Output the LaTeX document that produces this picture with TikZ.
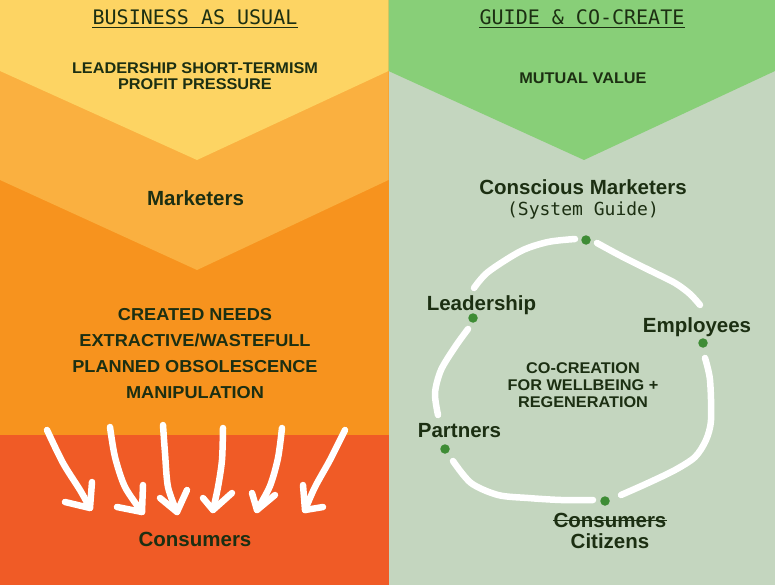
\documentclass[tikz,border=0pt]{standalone}
\usepackage{fontspec}
\setmainfont{Liberation Sans}
\newfontfamily\monof{DejaVu Sans Mono}
\newfontfamily\widef[FakeStretch=1.05]{Liberation Sans}
\usetikzlibrary{calc}
\definecolor{cyellow}{HTML}{FDD463}
\definecolor{clorange}{HTML}{FAB040}
\definecolor{corange}{HTML}{F7931E}
\definecolor{cred}{HTML}{F05B26}
\definecolor{cgreen}{HTML}{88CF78}
\definecolor{csage}{HTML}{C4D6BF}
\definecolor{ctext}{HTML}{1C2F12}
\definecolor{cdot}{HTML}{3E8C35}
\tikzset{
  head/.style={inner sep=0, anchor=base, text=ctext, font=\monof\fontsize{20}{22}\selectfont},
  sub/.style={inner sep=0, anchor=base, text=ctext, font=\monof\fontsize{18}{20}\selectfont},
  caps/.style={inner sep=0, anchor=base, text=ctext, font=\widef\bfseries\fontsize{15.5}{16}\selectfont},
  capl/.style={inner sep=0, anchor=base, text=ctext, font=\widef\bfseries\fontsize{17.3}{18}\selectfont},
  lbl/.style={inner sep=0, anchor=base, text=ctext, font=\bfseries\fontsize{20.5}{22}\selectfont},
  dot/.style={circle, fill=cdot, inner sep=0, minimum size=9.5pt},
  loopline/.style={white, line width=6.5pt, line cap=round, line join=round},
  warrow/.style={white, line width=6.5pt, line cap=round, line join=round},
}
\begin{document}
\begin{tikzpicture}[x=1pt,y=-1pt]
\useasboundingbox (0,0) rectangle (775,585);
% left panel backgrounds
\fill[cred] (0,435) rectangle (388.5,585);
\fill[corange] (0,0) rectangle (388.5,435);
\fill[clorange] (0,0) -- (388.5,0) -- (388.5,180) -- (197,270) -- (0,180) -- cycle;
\fill[cyellow] (0,0) -- (388.5,0) -- (388.5,71) -- (197,160) -- (0,71) -- cycle;
% right panel backgrounds
\fill[csage] (388.5,0) rectangle (775,585);
\fill[cgreen] (388.5,0) -- (775,0) -- (775,71) -- (584,160) -- (388.5,71) -- cycle;

% left texts
\node[head] (hL) at (195,25) {BUSINESS AS USUAL};
\draw[ctext, line width=0.8pt] ($(hL.base west)+(0,2.2)$) -- ($(hL.base east)+(0,2.2)$);
\node[caps] (p1) at (195,74) {LEADERSHIP SHORT-TERMISM};
\node[caps] (p2) at (195,90) {PROFIT PRESSURE};
\node[lbl] (mk) at (195.5,205) {Marketers};
\node[capl] (c1) at (195,320) {CREATED NEEDS};
\node[capl] (c2) at (195,346) {EXTRACTIVE/WASTEFULL};
\node[capl] (c3) at (195,372) {PLANNED OBSOLESCENCE};
\node[capl] (c4) at (195,398) {MANIPULATION};
\node[lbl] (consL) at (195,546) {Consumers};

% arrows
\draw[warrow] plot[smooth] coordinates {(47,430) (63,463) (80,490) (90,508)};
\draw[warrow] (92,482) -- (90,508) -- (65,502);
\draw[warrow] plot[smooth] coordinates {(110,427) (115,457) (125,487) (142,512)};
\draw[warrow] (143,485) -- (142,512) -- (117,507);
\draw[warrow] plot[smooth] coordinates {(163,425) (165,453) (168,487) (177,512)};
\draw[warrow] (187,490) -- (177,512) -- (160,498);
\draw[warrow] plot[smooth] coordinates {(223,428) (222,460) (218,487) (213,510)};
\draw[warrow] (232,493) -- (213,510) -- (203,498);
\draw[warrow] plot[smooth] coordinates {(282,428) (278,458) (270,486) (257,510)};
\draw[warrow] (275,495) -- (257,510) -- (252,493);
\draw[warrow] plot[smooth] coordinates {(345,430) (330,460) (315,487) (305,510)};
\draw[warrow] (323,507) -- (305,510) -- (303,485);

% right texts
\node[head] (hR) at (582,25) {GUIDE \& CO-CREATE};
\draw[ctext, line width=0.8pt] ($(hR.base west)+(0,2.2)$) -- ($(hR.base east)+(0,2.2)$);
\node[caps] (mv) at (583,84) {MUTUAL VALUE};
\node[lbl] (cm) at (583,195) {Conscious Marketers};
\node[sub] (sg) at (583,215) {(System Guide)};

% loop
\draw[loopline] plot[smooth] coordinates {(474,288) (488,272) (521,251) (548,242) (575,239)};
\draw[loopline] plot[smooth] coordinates {(597,243) (621,256) (651,271) (675,283) (690,294) (700,305)};
\draw[loopline] plot[smooth] coordinates {(705,358) (710,380) (711,420) (706,440) (695,457) (675,470) (648,483) (621,495)};
\draw[loopline] plot[smooth] coordinates {(593,500) (561,500) (528,498) (498,495) (471,483) (453,461)};
\draw[loopline] plot[smooth] coordinates {(438,415) (435,393) (441,370) (455,347) (468,329)};

\node[dot] (dTop) at (586,240) {};
\node[dot] (dLead) at (473,318) {};
\node[dot] (dEmp) at (703,343) {};
\node[dot] (dPart) at (445,449) {};
\node[dot] (dCons) at (605,501) {};

\node[lbl] (lLead) at (481.5,310) {Leadership};
\node[lbl] (lEmp) at (697,332) {Employees};
\node[lbl] (lPart) at (459.5,437) {Partners};
\node[lbl] (consR) at (610,527) {Consumers};
\draw[ctext, line width=1.6pt] ($(consR.base west)+(0,-6.5)$) -- ($(consR.base east)+(0,-6.5)$);
\node[lbl] (cit) at (610,548) {Citizens};

\node[caps] (k1) at (583,373) {CO-CREATION};
\node[caps] (k2) at (583,390) {FOR WELLBEING +};
\node[caps] (k3) at (583,407) {REGENERATION};
\end{tikzpicture}
\end{document}
